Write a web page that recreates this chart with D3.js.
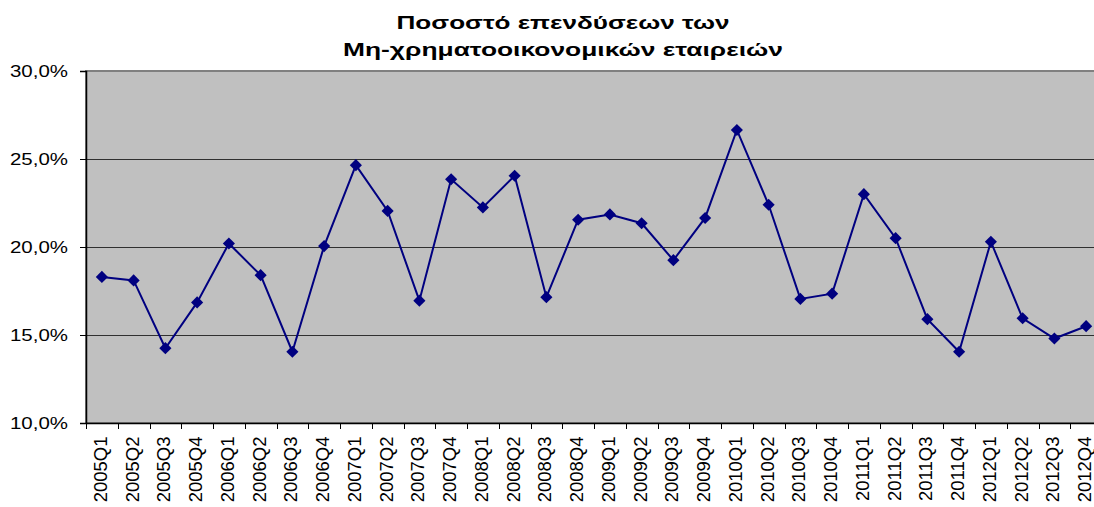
<!DOCTYPE html>
<html>
<head>
<meta charset="utf-8">
<script src="https://cdn.jsdelivr.net/npm/d3@7"></script>
<style>
  html, body { margin: 0; padding: 0; background: #fff; }
  svg { display: block; }
  text { font-family: "Liberation Sans", Arial, sans-serif; }
</style>
</head>
<body>
<svg id="chart" width="1094" height="507"></svg>
<script>
const titleLines = ["Ποσοστό επενδύσεων των", "Μη-χρηματοοικονομικών εταιρειών"];
const categories = [
  "2005Q1","2005Q2","2005Q3","2005Q4",
  "2006Q1","2006Q2","2006Q3","2006Q4",
  "2007Q1","2007Q2","2007Q3","2007Q4",
  "2008Q1","2008Q2","2008Q3","2008Q4",
  "2009Q1","2009Q2","2009Q3","2009Q4",
  "2010Q1","2010Q2","2010Q3","2010Q4",
  "2011Q1","2011Q2","2011Q3","2011Q4",
  "2012Q1","2012Q2","2012Q3","2012Q4"
];
const values = [
  18.3, 18.1, 14.25, 16.85,
  20.2, 18.4, 14.05, 20.05,
  24.65, 22.05, 16.95, 23.85,
  22.25, 24.05, 17.15, 21.55,
  21.85, 21.35, 19.25, 21.65,
  26.65, 22.4, 17.05, 17.35,
  23.0, 20.5, 15.9, 14.05,
  20.3, 15.95, 14.8, 15.5
];
const yTicks = [10, 15, 20, 25, 30];
const yDomain = [10, 30];

(function () {
const svg = d3.select("#chart");
const pLeft = 86, pRight = 1102, pTop = 71, pBottom = 423;

const x = d3.scaleBand().domain(categories).range([pLeft, pRight]).padding(0);
const y = d3.scaleLinear().domain(yDomain).range([pBottom, pTop]);

const locale = d3.formatLocale({decimal: ",", thousands: ".", grouping: [3], currency: ["", "€"]});
const fmt = v => locale.format(".1f")(v) + "%";

// plot area
svg.append("rect")
  .attr("x", pLeft).attr("y", pTop)
  .attr("width", pRight - pLeft).attr("height", pBottom - pTop)
  .attr("fill", "#c0c0c0")
  .attr("stroke", "#808080").attr("stroke-width", 2);

// gridlines
svg.append("g").selectAll("line")
  .data(yTicks.filter(t => t > yDomain[0] && t < yDomain[1]))
  .join("line")
  .attr("x1", pLeft).attr("x2", pRight)
  .attr("y1", d => Math.round(y(d)) + 0.5).attr("y2", d => Math.round(y(d)) + 0.5)
  .attr("stroke", "#303030").attr("stroke-width", 1);

// y axis
const yAxis = d3.axisLeft(y).tickValues(yTicks).tickSize(6).tickPadding(0).tickFormat(fmt);
const gy = svg.append("g").attr("transform", `translate(${pLeft},0)`).call(yAxis);
gy.select(".domain").attr("stroke", "#000").attr("stroke-width", 1.5);
gy.selectAll(".tick line").attr("stroke", "#000");
gy.selectAll(".tick text")
  .attr("x", -18).attr("dy", null).attr("y", 5.8)
  .attr("font-size", 16.3).attr("fill", "#000")
  .attr("font-family", "Liberation Sans, Arial, sans-serif")
  .attr("textLength", 58).attr("lengthAdjust", "spacingAndGlyphs");

// x axis (labels)
const xAxis = d3.axisBottom(x).tickSize(0).tickPadding(0);
const gx = svg.append("g").attr("transform", `translate(0,${pBottom})`).call(xAxis);
gx.select(".domain").attr("stroke", "#000").attr("stroke-width", 1.5);
gx.selectAll(".tick text")
  .attr("font-size", 18.5).attr("fill", "#000")
  .attr("font-family", "Liberation Sans, Arial, sans-serif")
  .attr("text-anchor", "end")
  .attr("dy", null).attr("y", 0)
  .attr("transform", "translate(5,13.5) rotate(-90)");

// x boundary ticks
svg.append("g").selectAll("line")
  .data(categories)
  .join("line")
  .attr("x1", d => Math.round(x(d)) + 0.5).attr("x2", d => Math.round(x(d)) + 0.5)
  .attr("y1", pBottom).attr("y2", pBottom + 6)
  .attr("stroke", "#000").attr("stroke-width", 1);

// line
const line = d3.line().x((d, i) => x(categories[i]) + x.bandwidth() / 2).y(d => y(d));
svg.append("path").datum(values)
  .attr("d", line).attr("fill", "none")
  .attr("stroke", "#000080").attr("stroke-width", 2);

// markers
const sym = d3.symbol(d3.symbolSquare, 74);
svg.append("g").selectAll("path")
  .data(values)
  .join("path")
  .attr("d", sym)
  .attr("transform", (d, i) => `translate(${x(categories[i]) + x.bandwidth() / 2},${y(d)}) rotate(45)`)
  .attr("fill", "#000080");

// title
const titleW = [333, 440];
const titleY = [29, 56];
svg.append("g").selectAll("text")
  .data(titleLines)
  .join("text")
  .attr("x", 563).attr("y", (d, i) => titleY[i])
  .attr("text-anchor", "middle")
  .attr("font-size", 17.7).attr("font-weight", "bold").attr("fill", "#000")
  .attr("textLength", (d, i) => titleW[i]).attr("lengthAdjust", "spacingAndGlyphs")
  .text(d => d);
})();
</script>
</body>
</html>
